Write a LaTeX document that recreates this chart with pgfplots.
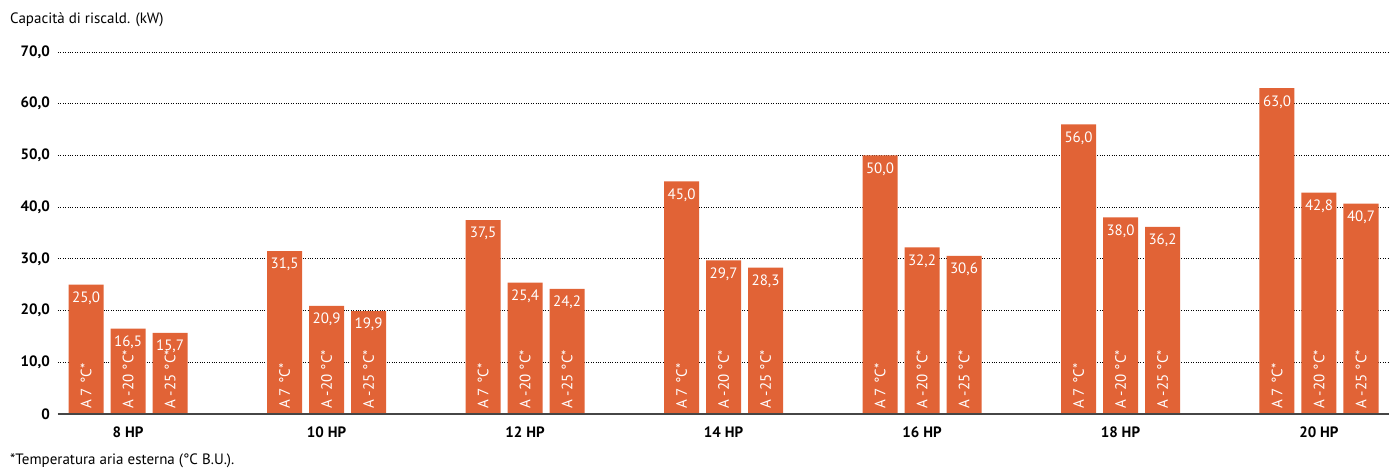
\documentclass[border=0pt]{standalone}
\usepackage{fontspec}
\setmainfont{PT Sans}
\usepackage{pgfplots}
\pgfplotsset{compat=1.18}
\definecolor{barorange}{RGB}{225,99,54}
\definecolor{basegray}{RGB}{70,70,70}
\begin{document}
\fontsize{15pt}{17pt}\selectfont
\begin{tikzpicture}
\path[use as bounding box] (-58pt,-55pt) rectangle (1331pt,414pt);
\begin{axis}[
  scale only axis,
  width=1331pt, height=362pt,
  xmin=-0.353, xmax=6.353,
  ymin=0, ymax=70,
  clip=false,
  ytick={0,10,20,30,40,50,60,70},
  yticklabels={0,{10,0},{20,0},{30,0},{40,0},{50,0},{60,0},{70,0}},
  xtick={0,1,2,3,4,5,6},
  xticklabels={8 HP,10 HP,12 HP,14 HP,16 HP,18 HP,20 HP},
  ticklabel style={font=\fontsize{15pt}{17pt}\selectfont\bfseries},
  yticklabel style={xshift=-3pt},
  xticklabel style={yshift=-8pt},
  major tick length=0pt,
  tick style={draw=none},
  ymajorgrids,
  grid style={black, dotted, line width=1pt},
  separate axis lines,
  axis x line*=bottom,
  axis y line*=left,
  x axis line style={draw=basegray, line width=1.6pt, -},
  y axis line style={draw=none},
  ybar,
  bar width=35pt,
  /pgf/number format/.cd, use comma, fixed, fixed zerofill, precision=1, assume math mode=true, /pgfplots/.cd,
  every node near coord/.append style={font=\fontsize{15pt}{17pt}\selectfont, text=white, inner sep=0pt},
]
% values
\addplot[fill=barorange, draw=none, bar shift=-42pt,
  nodes near coords, point meta=y,
  every node near coord/.append style={anchor=north, yshift=-7pt}]
  coordinates {(0,25.0) (1,31.5) (2,37.5) (3,45.0) (4,50.0) (5,56.0) (6,63.0)};
\addplot[fill=barorange, draw=none, bar shift=0pt,
  nodes near coords, point meta=y,
  every node near coord/.append style={anchor=north, yshift=-7pt}]
  coordinates {(0,16.5) (1,20.9) (2,25.4) (3,29.7) (4,32.2) (5,38.0) (6,42.8)};
\addplot[fill=barorange, draw=none, bar shift=42pt,
  nodes near coords, point meta=y,
  every node near coord/.append style={anchor=north, yshift=-7pt}]
  coordinates {(0,15.7) (1,19.9) (2,24.2) (3,28.3) (4,30.6) (5,36.2) (6,40.7)};
% baseline over the bars
\addplot[sharp plot, draw=basegray, line width=1.6pt, forget plot]
  coordinates {(-0.353,0) (6.353,0)};
% rotated condition labels
\addplot[draw=none, fill=none, bar shift=-42pt, forget plot,
  nodes near coords={A 7 °C*},
  every node near coord/.append style={rotate=90, anchor=west, xshift=5pt}]
  coordinates {(0,0) (1,0) (2,0) (3,0) (4,0) (5,0) (6,0)};
\addplot[draw=none, fill=none, bar shift=0pt, forget plot,
  nodes near coords={A -20 °C*},
  every node near coord/.append style={rotate=90, anchor=west, xshift=5pt}]
  coordinates {(0,0) (1,0) (2,0) (3,0) (4,0) (5,0) (6,0)};
\addplot[draw=none, fill=none, bar shift=42pt, forget plot,
  nodes near coords={A -25 °C*},
  every node near coord/.append style={rotate=90, anchor=west, xshift=5pt}]
  coordinates {(0,0) (1,0) (2,0) (3,0) (4,0) (5,0) (6,0)};
\end{axis}
\node[anchor=west, inner sep=0pt, font=\fontsize{15pt}{17pt}\selectfont] at (-48pt,394pt) {Capacità di riscald. (kW)};
\node[anchor=west, inner sep=0pt, font=\fontsize{15pt}{17pt}\selectfont] at (-48pt,-47pt) {*Temperatura aria esterna (°C B.U.).};
\end{tikzpicture}
\end{document}
